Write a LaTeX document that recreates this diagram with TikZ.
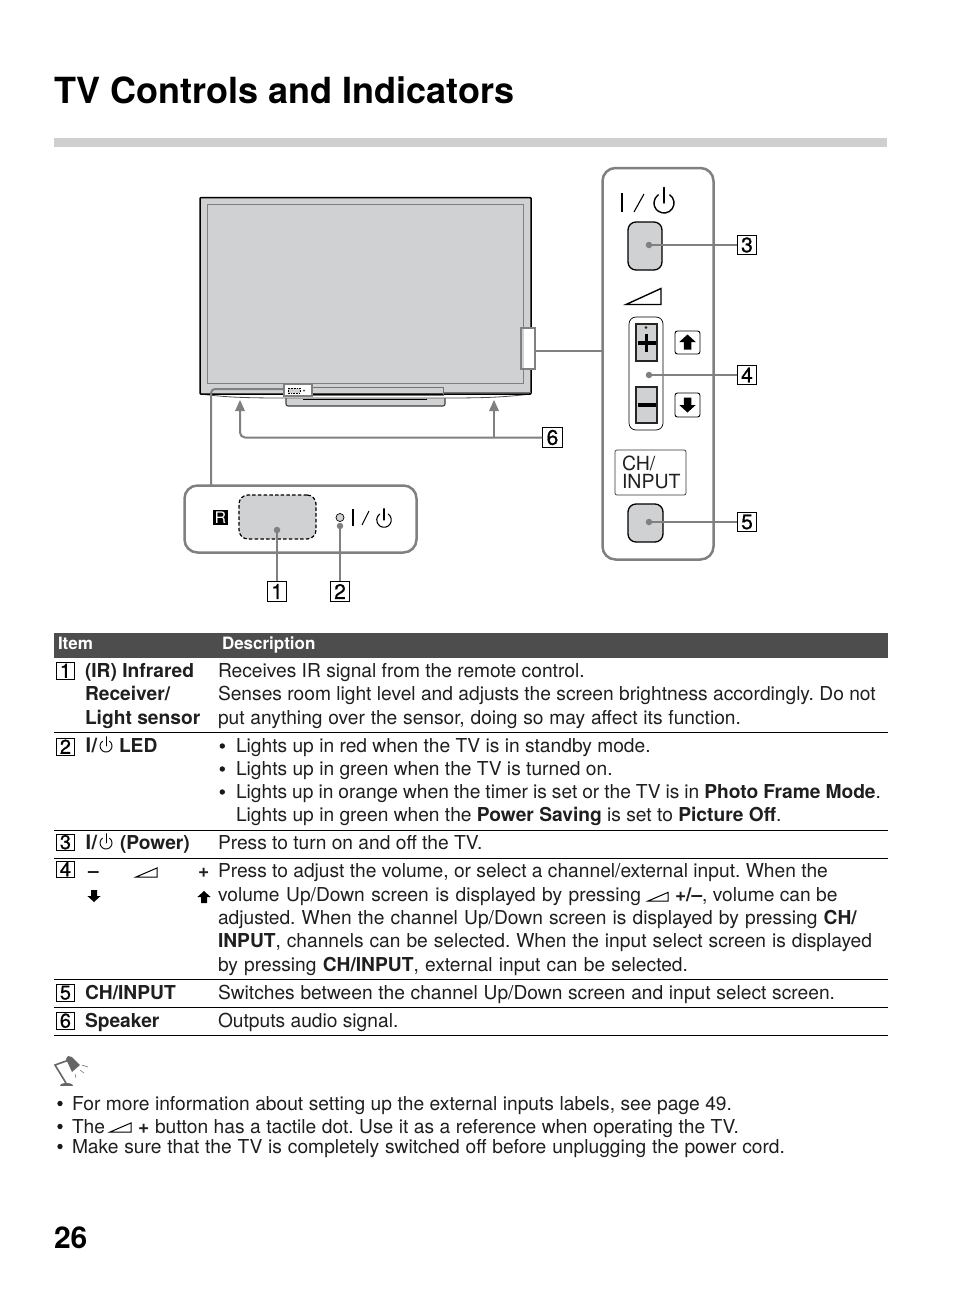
\documentclass[tikz,border=0pt]{standalone}
\usepackage{fontspec}
\setmainfont{TeX Gyre Heros}
\newfontfamily\numfont[FakeBold=0.8]{TeX Gyre Heros}
\definecolor{scr}{HTML}{D0D1D3}
\definecolor{lead}{HTML}{808080}
\definecolor{band}{HTML}{CFCFCF}
\definecolor{head}{HTML}{4D4D4D}
\definecolor{lamp}{HTML}{666666}
\newcommand\TX[4]{\node[txt] (#1) at (#2,#3) {#4};}
\newcommand\TW[5]{\node[txt] (#1) at (#2,#3) {\makebox[#4pt][s]{#5}};}
\newcommand\TB[4]{\node[txt,font=\fontsize{19.2}{23}\bfseries\selectfont] (#1) at (#2,#3) {#4};}
\newcommand\TN[4]{\node[numsmall] (#1) at (#2,#3) {#4};}
\newcommand\BL[3]{\node[circle,fill=black!90,inner sep=0pt,minimum size=5.4pt] (#1) at (#2,#3) {};}
\newcommand\Pwr[4]{% centre x,y,radius,line width (y axis points down)
  \draw[line width=#4,line cap=round] (#1,#2) ++(-55:#3) arc[start angle=-55,end angle=235,radius=#3];
  \draw[line width=#4,line cap=round] (#1,#2) -- ++(0,-#3*1.55);
}
\newcommand\UpKey[3]{\fill (#1,#2-#3*0.5) -- (#1+#3*0.55,#2) -- (#1+#3*0.25,#2) -- (#1+#3*0.25,#2+#3*0.5) -- (#1-#3*0.25,#2+#3*0.5) -- (#1-#3*0.25,#2) -- (#1-#3*0.55,#2) -- cycle;}
\newcommand\DnKey[3]{\fill (#1,#2+#3*0.5) -- (#1+#3*0.55,#2) -- (#1+#3*0.25,#2) -- (#1+#3*0.25,#2-#3*0.5) -- (#1-#3*0.25,#2-#3*0.5) -- (#1-#3*0.25,#2) -- (#1-#3*0.55,#2) -- cycle;}
\newcommand\Tri[3]{\draw[line width=1pt,line join=miter,fill=white] (#1,#2) -- (#1+#3,#2) -- (#1+#3,#2-#3*0.43) -- cycle;}
\tikzset{
 x=1pt,y=-1pt,
 txt/.style={anchor=base west,inner sep=0pt,outer sep=0pt,font=\fontsize{19.2}{23}\selectfont,text=black!88},
 numbig/.style={draw=black,line width=1pt,inner sep=0pt,minimum width=19.5pt,minimum height=19.5pt,font=\fontsize{21}{21}\numfont},
 numsmall/.style={draw=black,line width=0.9pt,inner sep=0pt,anchor=north west,minimum width=18pt,minimum height=16.5pt,font=\fontsize{20}{20}\numfont},
 leadline/.style={draw=lead,line width=2pt},
 ldot/.style={circle,fill=lead,inner sep=0pt,minimum size=6.5pt},
 btn/.style={draw=black,line width=1.3pt,fill=scr,rounded corners=8pt},
 rule/.style={draw=black,line width=0.9pt},
}
\begin{document}
\frenchspacing
\begin{tikzpicture}
\useasboundingbox (0,0) rectangle (954,1298);
\fill[white] (0,0) rectangle (954,1298);
% heading
\node[txt,font=\fontsize{36}{40}\bfseries\selectfont,text=black] (title) at (54,103) {TV Controls and Indicators};
\fill[band] (54,138) rectangle (887,147);
% TV
\filldraw[fill=scr,draw=black!75,line width=1.1pt,rounded corners=2pt] (286,396) -- (286,406) -- (445,406) -- (445,396) -- cycle;
\fill[white,draw=black!70,line width=0.8pt] (200,394) .. controls (225,397) and (240,398) .. (285,398) -- (445,398) .. controls (490,398) and (505,397) .. (531,394) -- cycle;
\draw[black,line width=1.8pt] (303,399.5) -- (427,399.5);
\filldraw[fill=scr,draw=black,line width=1.5pt,rounded corners=1pt] (200,394) -- (200,197.5) -- (531,197.5) -- (531,394) -- cycle;
\draw[black!50,line width=0.9pt,fill=scr] (207,204) rectangle (523,383);
\draw[black!55,line width=0.8pt] (443,392) -- (531,392);
\draw[black!55,line width=0.8pt] (312,387) -- (443,387) -- (443,395) -- (312,395);
% TV highlight boxes
\filldraw[fill=white,draw=lead,line width=1.6pt] (284,384.5) rectangle (312,396);
\draw[black,line width=0.6pt,dash pattern=on 1pt off 0.6pt,fill=scr] (288,388) rectangle (300,393);
\fill[black!80] (304,390.5) circle (1pt);
\filldraw[fill=white,draw=lead,line width=2pt] (520.5,328) rectangle (535,369);
\fill[scr] (521.5,329) rectangle (523.5,368);
% side panel
\node[draw=lead,line width=2.5pt,fill=white,rounded corners=13pt,minimum width=111pt,minimum height=391.5pt,inner sep=0pt,outer sep=0pt] (sidepanel) at (658,363.75) {};
\draw[black,line width=1.3pt] (622,193) -- (622,212);
\draw[black,line width=1.1pt] (634,212) -- (644,194);
\Pwr{664}{203}{10}{1.4pt}
\node[btn,minimum width=34pt,minimum height=48pt,inner sep=0pt] (power) at (645,246) {};
\node[ldot] (d3) at (649,245) {};
\draw[black,line width=1.4pt,fill=white] (626,304.5) -- (661,304.5) -- (661,288.5) -- cycle;
\node[draw=black,line width=0.7pt,fill=white,rounded corners=7pt,minimum width=34pt,minimum height=113pt,inner sep=0pt] (volgroup) at (646,373.5) {};
\node[draw=black!85,line width=1.1pt,fill=scr,minimum width=21pt,minimum height=37pt,inner sep=0pt] (plus) at (646.5,342.5) {};
\node[draw=black!85,line width=1.1pt,fill=scr,minimum width=21pt,minimum height=36pt,inner sep=0pt] (minus) at (646.5,405) {};
\fill[black] (637.5,341.4) rectangle (655.5,344.8);
\fill[black] (644.8,334) rectangle (648.2,352);
\draw[black,line width=0.5pt] (646,327.5) circle (1pt);
\fill[black] (637.5,403.4) rectangle (656,406.8);
\node[ldot] (d4) at (649,375) {};
\node[draw=black,line width=0.9pt,fill=white,rounded corners=2.5pt,minimum width=25pt,minimum height=23pt,inner sep=0pt] (upkey) at (687.5,342.5) {};
\UpKey{687.5}{342}{15}
\node[draw=black,line width=0.9pt,fill=white,rounded corners=2.5pt,minimum width=25pt,minimum height=24pt,inner sep=0pt] (dnkey) at (687.5,405) {};
\DnKey{687.5}{405}{15}
\node[draw=black!80,line width=0.7pt,fill=white,rounded corners=2pt,minimum width=71pt,minimum height=45pt,inner sep=0pt] (chbox) at (650.5,472.5) {};
\node[txt,font=\fontsize{19.5}{20}\selectfont] (ch) at (622,470) {CH/};
\node[txt,font=\fontsize{19.5}{20}\selectfont] (input) at (622,488.5) {INPUT};
\node[btn,minimum width=35pt,minimum height=38pt,inner sep=0pt] (chbtn) at (645.5,523) {};
\node[ldot] (d5) at (649,522) {};
% number labels of the drawing
\node[numbig] (n3) at (747,245) {3};
\node[numbig] (n4) at (747,375) {4};
\node[numbig] (n5) at (747,522) {5};
\node[numbig] (n6) at (552.5,437.5) {6};
\node[numbig] (n1) at (277,591.5) {1};
\node[numbig] (n2) at (340,591.5) {2};
\draw[leadline] (d3) -- (n3);
\draw[leadline] (d4) -- (n4);
\draw[leadline] (d5) -- (n5);
% bottom panel
\node[draw=lead,line width=2.5pt,fill=white,rounded corners=13pt,minimum width=232pt,minimum height=67pt,inner sep=0pt,outer sep=0pt] (botpanel) at (300.5,519) {};
\node[fill=black,text=white,minimum width=15pt,minimum height=15pt,inner sep=0pt,font=\fontsize{16}{16}\selectfont] (ir) at (220.5,517.5) {R};
\node[draw=black,line width=1.2pt,dash pattern=on 3.5pt off 2.2pt,fill=scr,rounded corners=9pt,minimum width=77pt,minimum height=44pt,inner sep=0pt] (sensor) at (277.5,517) {};
\node[ldot] (d1) at (277,530) {};
\node[circle,draw=black,line width=0.7pt,fill=scr,inner sep=0pt,minimum size=8pt] (led) at (340,517.5) {};
\node[ldot] (d2) at (340,526) {};
\draw[black,line width=1.8pt] (353,509) -- (353,526);
\draw[black,line width=1pt] (362,525) -- (369,511);
\Pwr{384}{520}{7.3}{1.1pt}
\draw[leadline] (d1) -- (n1);
\draw[leadline] (d2) -- (n2);
% leaders on the TV
\coordinate (tipL) at (240,398);
\coordinate (tipR) at (494,398);
\coordinate (bendL) at (240,437.5);
\coordinate (junR) at (494,437.5);
\coordinate (strip) at (284,389);
\coordinate (bendS) at (211,389);
\coordinate (sideTv) at (535,351);
\coordinate (sidePanelW) at (sidepanel.west |- sideTv);
\coordinate (botTop) at (211,485);
\draw[leadline,rounded corners=5pt] (n6.west) -- (bendL) -- (240,408);
\draw[leadline] (junR) -- (494,408);
\fill[lead] (tipL) ++(0,2) -- ++(-5,11) -- ++(10,0) -- cycle;
\fill[lead] (tipR) ++(0,2) -- ++(-5,11) -- ++(10,0) -- cycle;
\draw[leadline,rounded corners=4pt] (strip) -- (bendS) -- (botTop);
\draw[leadline] (sideTv) -- (sidePanelW);
% table header
\fill[head] (54,633) rectangle (888,658);
\node[txt,font=\fontsize{17}{17}\bfseries\selectfont,text=white] (hitem) at (58,649) {Item};
\node[txt,font=\fontsize{17}{17}\bfseries\selectfont,text=white] (hdesc) at (222,649) {Description};
% rules
\foreach \yy in {732.5,830.5,858.5,979.5,1007.5,1035.5} \draw[rule] (54,\yy) -- (888,\yy);
% row 1
\TN{t1}{56}{662}{1}
\TB{a1}{85}{677}{(IR) Infrared}
\TB{a2}{85}{700}{Receiver/}
\TB{a3}{85}{724}{Light sensor}
\TX{b1}{218}{677}{Receives IR signal from the remote control.}
\TX{b2}{218}{700}{Senses room light level and adjusts the screen brightness accordingly. Do not}
\TW{b3}{218}{724}{523}{put anything over the sensor, doing so may affect its function.}
% row 2
\TN{t2}{56}{738}{2}
\node[txt,font=\fontsize{20}{23}\bfseries\selectfont] (a4) at (85.5,752) {I\kern0.6pt/};
\Pwr{106}{746}{6}{0.9pt}
\TB{a5}{119}{752}{LED}
\BL{c0}{222.3}{746}
\TX{c1}{236}{752}{Lights up in red when the TV is in standby mode.}
\BL{c2}{222.3}{769}
\TX{c3}{236}{775}{Lights up in green when the TV is turned on.}
\BL{c4}{222.3}{792}
\TW{c5}{236}{798}{645}{Lights up in orange when the timer is set or the TV is in \textbf{Photo\ Frame\ Mode}.}
\TX{c6}{236}{821}{Lights up in green when the \textbf{Power Saving} is set to \textbf{Picture Off}.}
% row 3
\TN{t3}{56}{833.5}{3}
\node[txt,font=\fontsize{20}{23}\bfseries\selectfont] (a6) at (85.5,849) {I\kern0.6pt/};
\Pwr{106}{843}{6}{0.9pt}
\TB{a7}{120}{849}{(Power)}
\TX{d0}{218}{849}{Press to turn on and off the TV.}
% row 4
\TN{t4}{56}{860.5}{4}
\TB{a8}{88}{877}{–}
\Tri{136}{877}{21}
\TB{a9}{198}{877}{+}
\DnKey{94}{896}{12}
\UpKey{204}{897}{12}
\TX{e1}{218}{877}{Press to adjust the volume, or select a channel/external input. When the}
\TW{e2}{218}{901}{423}{volume Up/Down screen is displayed by pressing}
\Tri{648}{901}{20}
\TX{e3}{675}{901}{\textbf{+/–}, volume can be}
\TW{e4}{218}{924}{639}{adjusted. When the channel Up/Down screen is displayed by pressing \textbf{CH/}}
\TW{e5}{218}{947}{654}{\textbf{INPUT}, channels can be selected. When the input select screen is displayed}
\TW{e6}{218}{971}{470}{by pressing \textbf{CH/INPUT}, external input can be selected.}
% row 5
\TN{t5}{56}{984}{5}
\TB{a10}{85}{999}{CH/INPUT}
\TW{f1}{218}{999}{617}{Switches between the channel Up/Down screen and input select screen.}
% row 6
\TN{t6}{56}{1012}{6}
\TB{a11}{85}{1027}{Speaker}
\TX{g1}{218}{1027}{Outputs audio signal.}
% lamp
\fill[lamp] (60,1085.5) .. controls (60,1082) and (73,1082) .. (73,1085.5) -- cycle;
\draw[lamp,line width=1.6pt] (66,1083) -- (55,1065) -- (69,1060);
\fill[lamp] (66,1059) -- (68,1056) -- (72,1057) -- (80,1065) -- (72,1072) -- cycle;
\draw[lamp,line width=0.5pt] (82,1065) -- (88,1067) (80,1070) -- (84,1073) (75,1074) -- (76,1078);
% notes
\BL{h0}{60}{1103.5}
\TW{h1}{72}{1110}{660}{For more information about setting up the external inputs labels, see page 49.}
\BL{h2}{60}{1126.5}
\TX{h3}{72}{1133}{The}
\Tri{110}{1132}{21}
\TB{h4}{138}{1133}{+}
\TW{h5}{155}{1133}{584}{button has a tactile dot. Use it as a reference when operating the TV.}
\BL{h6}{60}{1146.5}
\TW{h7}{72}{1153}{713}{Make sure that the TV is completely switched off before unplugging the power cord.}
% folio
\node[txt,font=\fontsize{30}{30}\bfseries\selectfont,text=black] (folio) at (54,1248) {26};
\end{tikzpicture}
\end{document}
